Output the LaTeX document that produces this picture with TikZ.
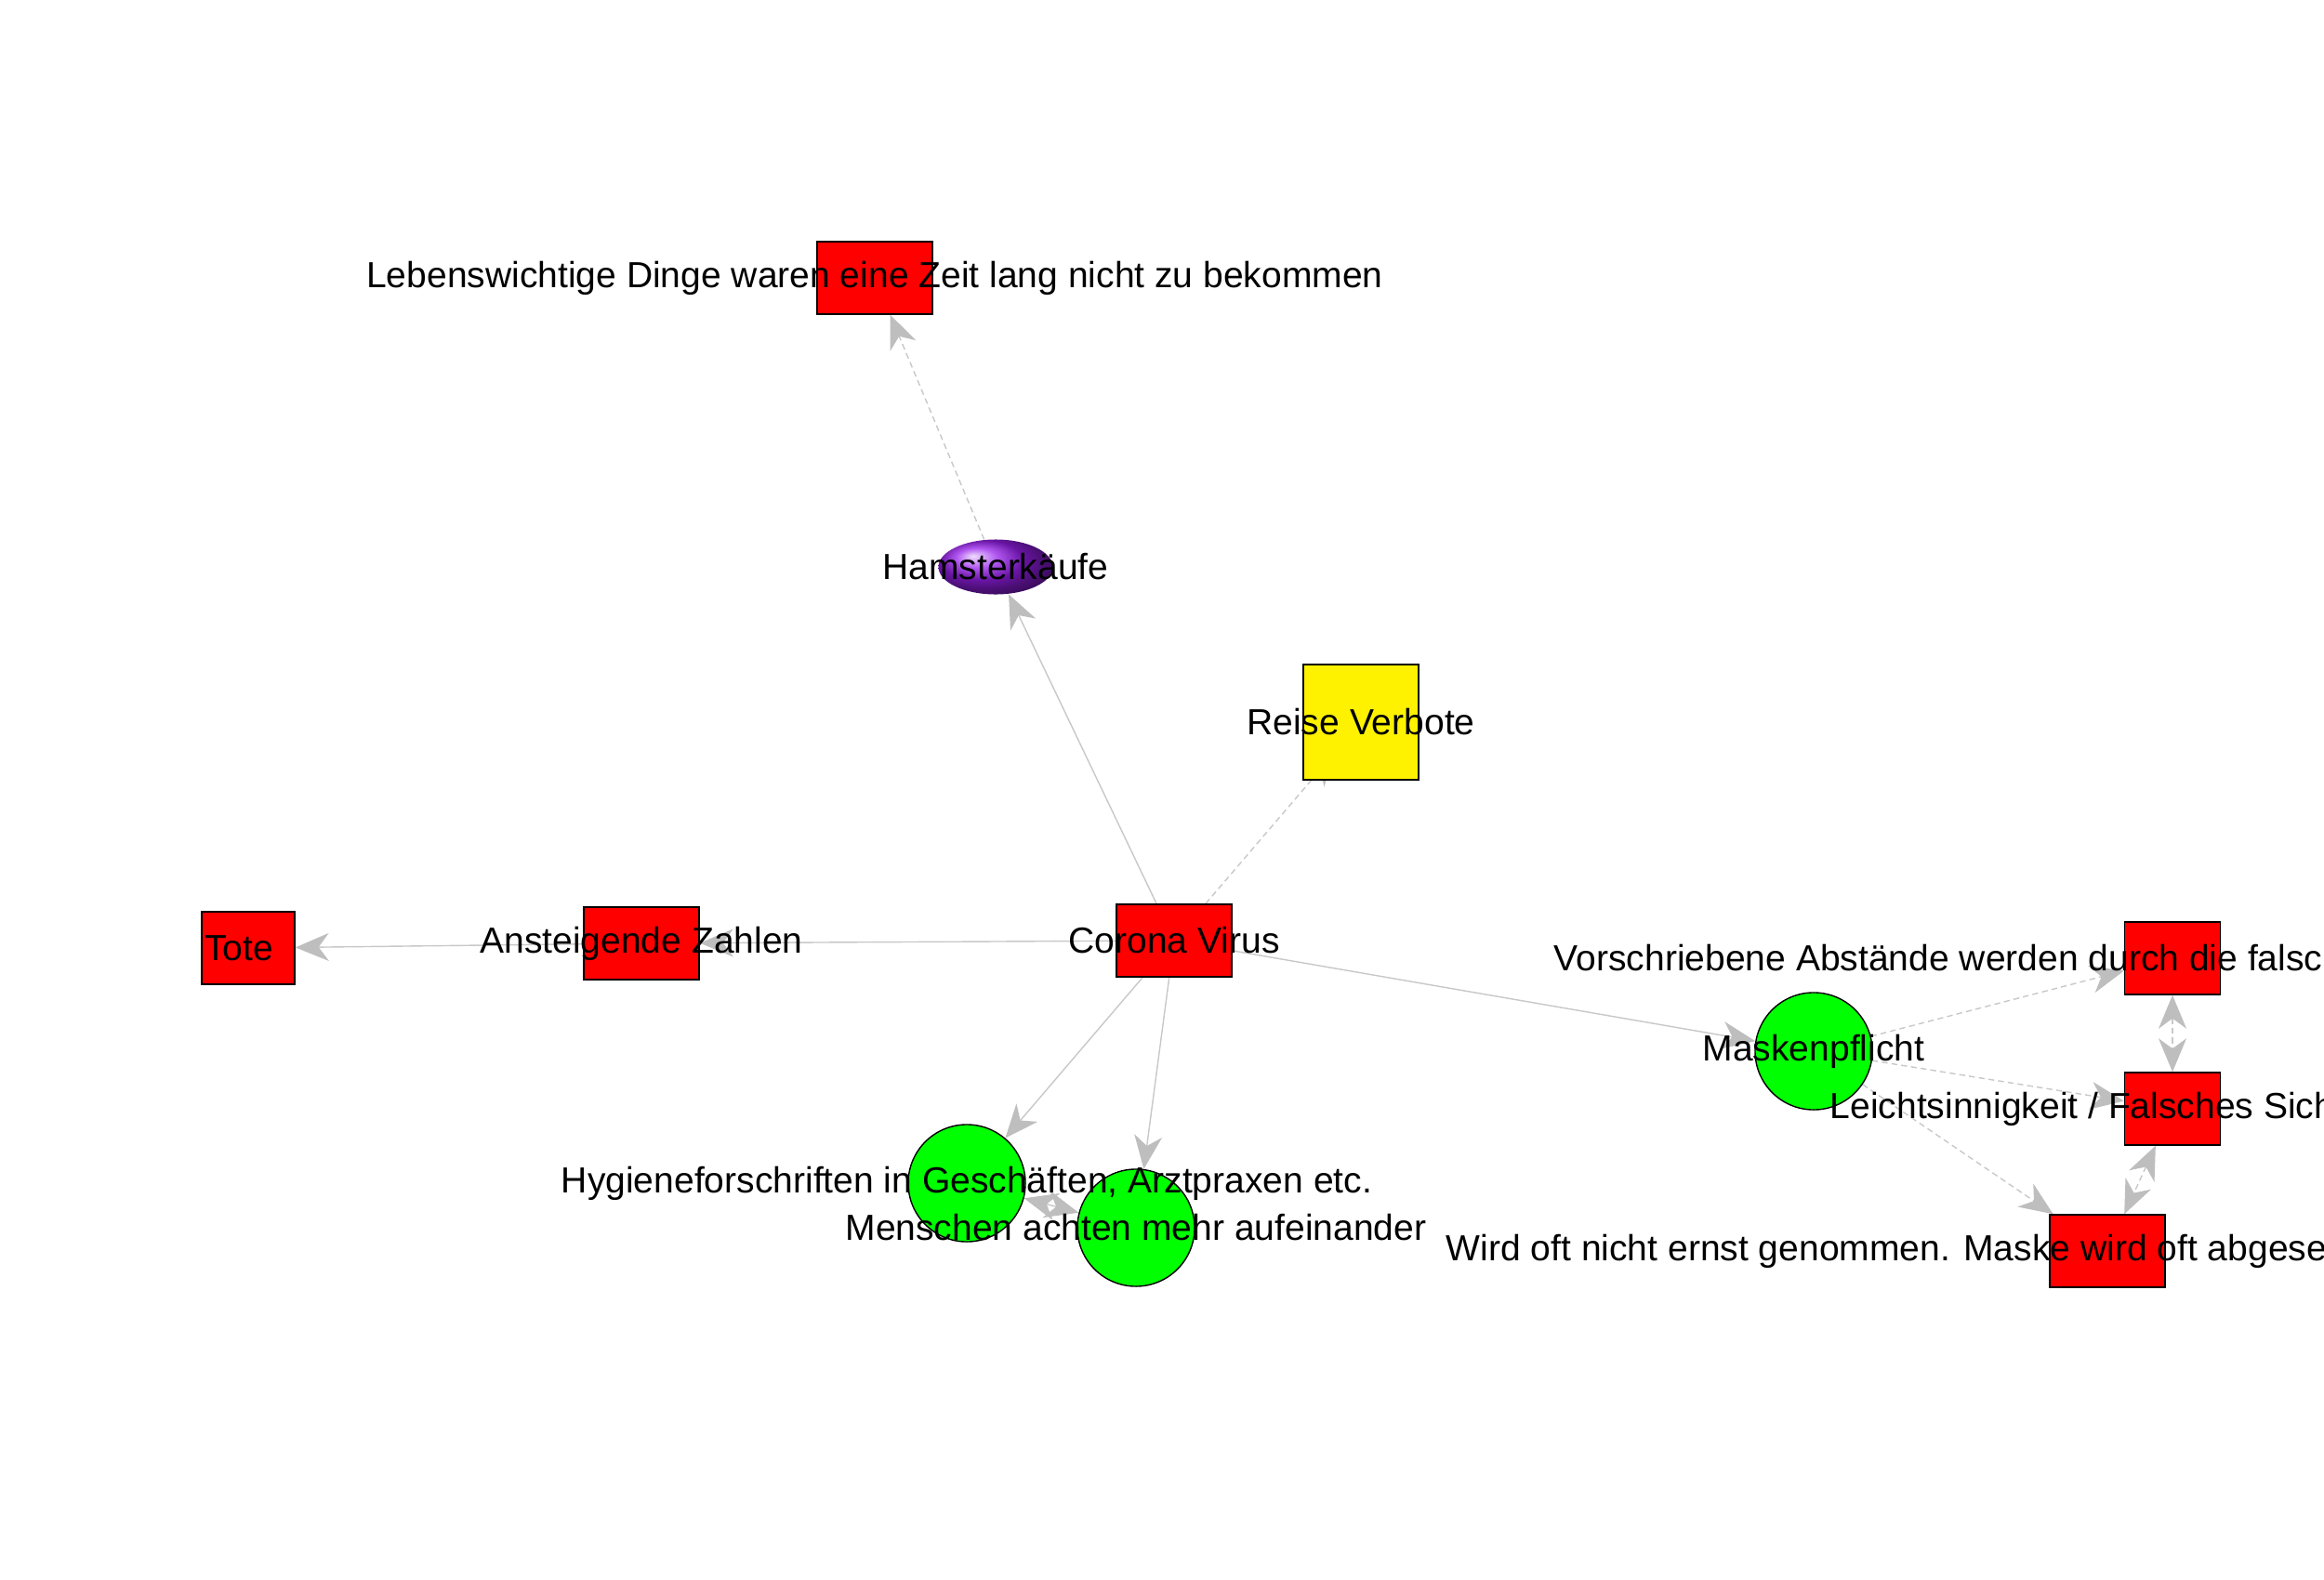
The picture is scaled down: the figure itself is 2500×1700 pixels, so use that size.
\documentclass[tikz,border=0pt]{standalone}
\usepackage{fontspec}
\setmainfont{Liberation Sans}
\usetikzlibrary{arrows.meta,shapes.geometric}

\pgfdeclarelayer{edges}
\pgfsetlayers{edges,main}

\definecolor{edgegray}{RGB}{190,190,190}
\definecolor{linegray}{RGB}{200,200,200}
\definecolor{hamsterpurple}{RGB}{150,30,235}

\tikzset{
  redbox/.style={draw=black, fill=red, line width=0.4pt, inner sep=0pt,
    minimum width=1.24cm, minimum height=0.78cm},
  yellowbox/.style={redbox, fill=yellow, minimum height=1.24cm},
  greencirc/.style={circle, draw=black, fill=green, line width=0.4pt,
    inner sep=0pt, minimum size=1.26cm},
  hamsterball/.style={ellipse, inner sep=0pt, minimum width=1.23cm,
    minimum height=0.59cm, shading=ball, ball color=hamsterpurple},
  lbl/.style={inner sep=0pt, font=\fontsize{11.1}{13}\selectfont},
  tip/.style={Stealth[length=3.6mm, width=3mm, inset=1.1mm, color=edgegray]},
  edge/.style={draw=linegray, line width=0.4pt, -{Stealth[length=3.6mm, width=3mm, inset=1.1mm, color=edgegray]}},
  dashededge/.style={edge, dash pattern=on 1.8pt off 1.2pt},
  twoway/.style={draw=linegray, line width=0.4pt, dash pattern=on 1.8pt off 1.2pt,
    {Stealth[length=3.6mm, width=3mm, inset=1.1mm, color=edgegray]}-{Stealth[length=3.6mm, width=3mm, inset=1.1mm, color=edgegray]}}
}

\begin{document}
\begin{tikzpicture}[x=0.01cm, y=-0.01cm]
  \useasboundingbox (0,0) rectangle (2500,1700);
  \clip (0,0) rectangle (2500,1700);

  % vertices
  \node[redbox] (leben) at (941,299) {};
  \node[hamsterball] (hamster) at (1071,610) {};
  \node[yellowbox] (reise) at (1464,777) {};
  \node[redbox] (corona) at (1263,1012) {};
  \node[redbox] (zahlen) at (690,1015) {};
  \node[redbox, minimum width=1.0cm] (tote) at (267,1020) {};
  \node[greencirc] (maske) at (1951,1131) {};
  \node[redbox, minimum width=1.03cm] (abstand) at (2337,1031) {};
  \node[redbox, minimum width=1.03cm] (leicht) at (2337,1193) {};
  \node[redbox] (ernst) at (2267,1346) {};
  \node[greencirc] (hygiene) at (1040,1273) {};
  \node[greencirc] (menschen) at (1222,1321) {};

  % labels
  \node[lbl] (lebenT) at (leben) {Lebenswichtige Dinge waren eine Zeit lang nicht zu bekommen};
  \node[lbl] (hamsterT) at (hamster) {Hamsterkäufe};
  \node[lbl] (reiseT) at (reise) {Reise Verbote};
  \node[lbl] (coronaT) at (corona) {Corona Virus};
  \node[lbl] (zahlenT) at (zahlen) {Ansteigende Zahlen};
  \node[lbl] (toteT) at (257,1020) {Tote};
  \node[lbl] (maskeT) at (maske) {Maskenpflicht};
  \node[lbl, anchor=west] (abstandT) at (1671,1031) {Vorschriebene Abstände werden durch die falsc};
  \node[lbl, anchor=west] (leichtT) at (1968,1193) {Leichtsinnigkeit / Falsches Sich};
  \node[lbl, anchor=west] (ernstT) at (1555,1346) {Wird oft nicht ernst genommen. Maske wird oft abgese};
  \node[lbl] (hygieneT) at (hygiene) {Hygieneforschriften in Geschäften, Arztpraxen etc.};
  \node[lbl] (menschenT) at (menschen) {Menschen achten mehr aufeinander};

  % edges, kept under the vertices
  \begin{pgfonlayer}{edges}
    \draw[dashededge] (hamster) -- (leben);
    \draw[edge] (corona) -- (hamster);
    \draw[dashededge, shorten >=-4mm] (corona) -- (reise);
    \draw[edge] (corona) -- (zahlen);
    \draw[edge] (zahlen) -- (tote);
    \draw[edge] (corona) -- (hygiene);
    \draw[edge] (corona) -- (menschen);
    \draw[edge] (corona) -- (maske);
    \draw[twoway, solid] (hygiene) -- (menschen);
    \draw[dashededge] (maske) -- (abstand);
    \draw[dashededge] (maske) -- (leicht);
    \draw[dashededge] (maske) -- (ernst);
    \draw[twoway] (abstand) -- (leicht);
    \draw[twoway] (leicht) -- (ernst);
  \end{pgfonlayer}
\end{tikzpicture}
\end{document}
